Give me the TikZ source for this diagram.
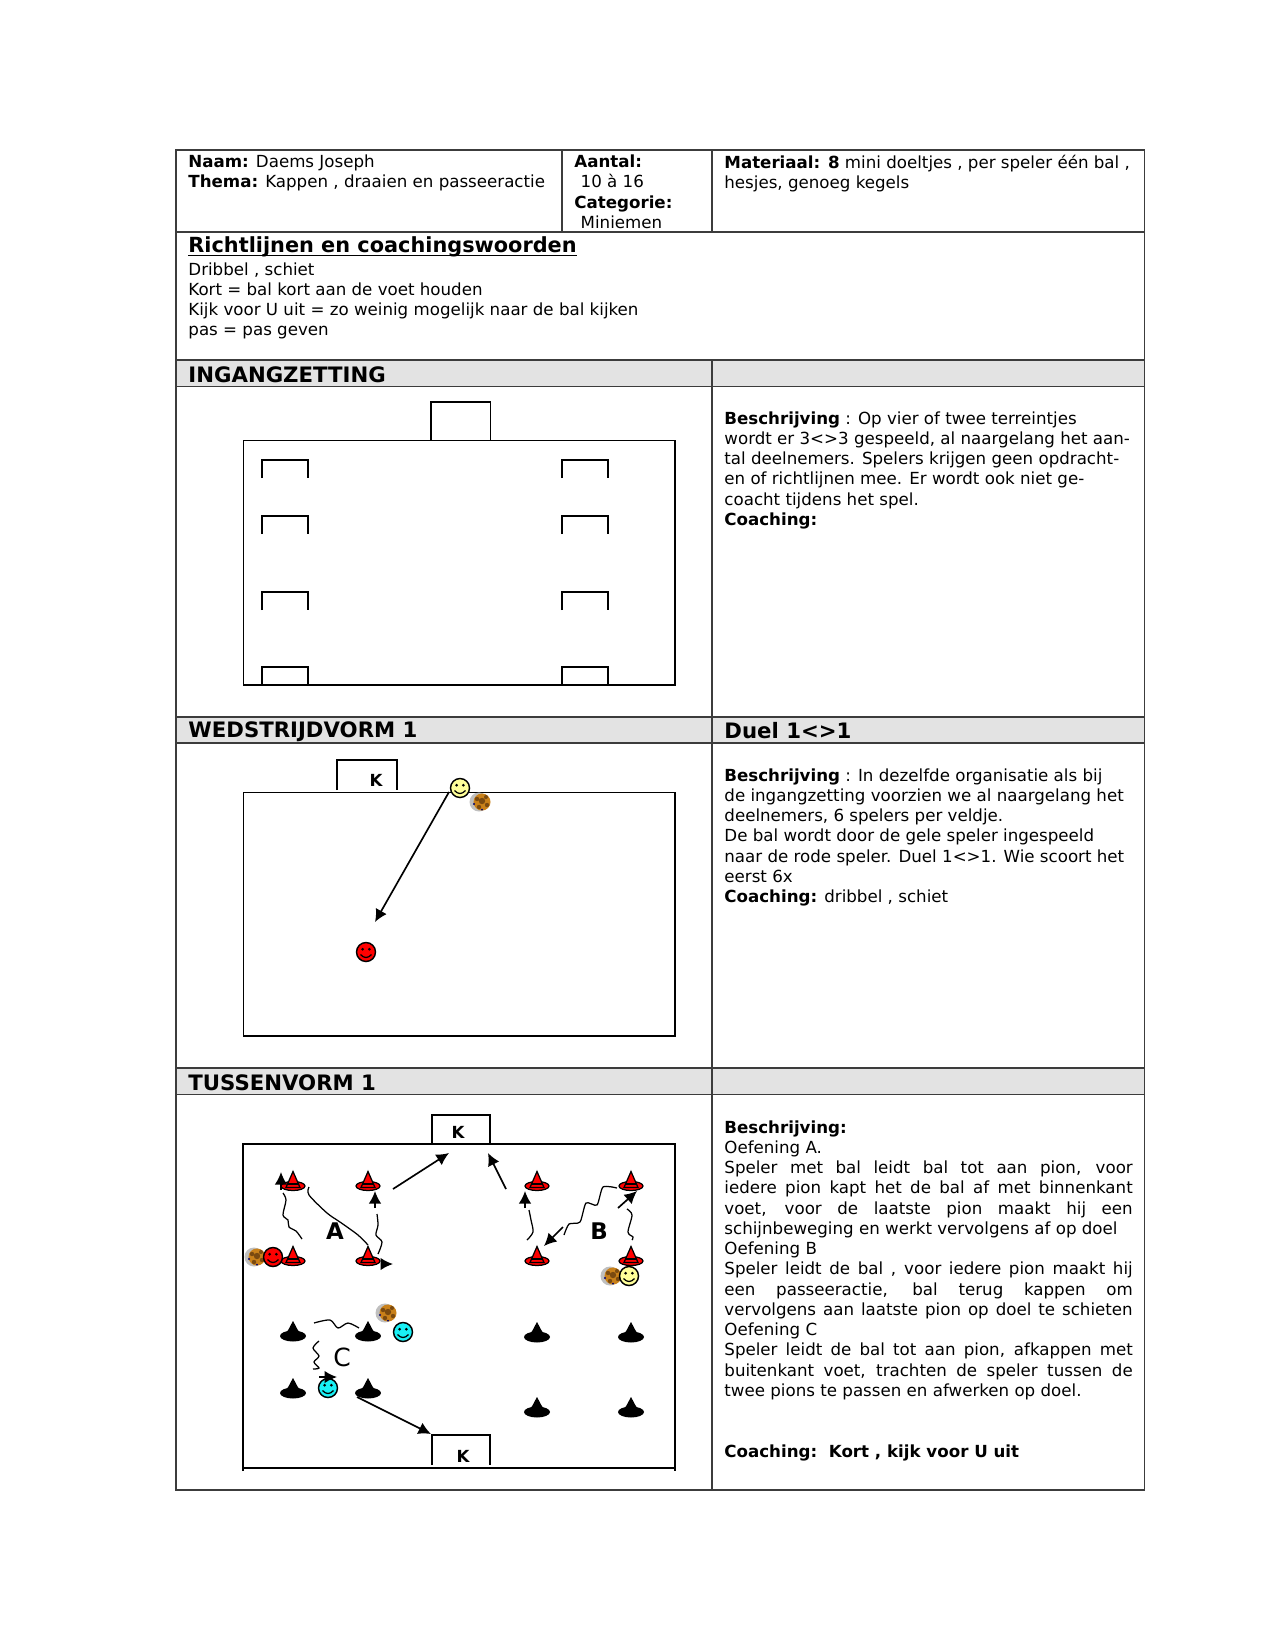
\documentclass[tikz,border=0pt]{standalone}
\usepackage{fontspec}
\setmainfont{DejaVu Sans}
\usetikzlibrary{arrows.meta}
\definecolor{kop}{HTML}{E3E3E3}
\definecolor{lijn}{HTML}{3C3C3C}
\definecolor{geel}{HTML}{FFFF99}
\definecolor{blauw}{HTML}{19F0F5}
\definecolor{bal}{HTML}{C9811A}
\definecolor{balvlek}{HTML}{7A4A10}
\tikzset{
  veld/.style={line width=0.6pt,black},
  rooster/.style={line width=0.5pt,lijn},
  tekst/.style={anchor=north west,inner sep=0pt,align=left,font=\fontsize{8}{9.72}\selectfont},
  blok/.style={anchor=north west,inner sep=0pt,text width=196pt,align=justify,font=\fontsize{8}{9.72}\selectfont},
  titel/.style={anchor=west,inner sep=0pt,font=\fontsize{10.2}{12}\selectfont\bfseries},
  letter/.style={inner sep=0pt,font=\fontsize{8}{10}\selectfont\bfseries},
  pijl/.style={line width=0.8pt,-{Latex[length=6pt,width=6pt]}},
  kron/.style={line width=0.6pt},
  pics/rodepion/.style={code={
    \draw[line width=0.6pt,fill=red] (0,0) ellipse (12 and 4.5);
    \draw[line width=0.6pt,fill=red] (-7,1.5) -- (0,-14.5) -- (7,1.5) -- cycle;
    \draw[line width=0.6pt] (-5.5,-2) -- (5.5,-2);
  }},
  pics/zwartepion/.style={code={
    \fill (0,1) ellipse (13 and 5.5);
    \fill (-9,0) .. controls (-5,-3) and (-3,-9) .. (0,-14) .. controls (3,-9) and (5,-3) .. (9,0) -- cycle;
  }},
  pics/smiley/.style={code={
    \draw[line width=0.7pt,fill=#1] (0,0) circle (9.5);
    \fill (-3.4,-2.8) circle (1.5) (3.4,-2.8) circle (1.5);
    \draw[line width=0.6pt] (-5.5,2.5) .. controls (-2,6.5) and (2,6.5) .. (5.5,2.5);
  }},
  pics/voetbal/.style={code={
    \fill[black!25] (-3,0) circle (9.5);
    \fill[bal] (0,0) circle (8.5);
    \fill[balvlek] (0,-1) circle (3.2) (-5,-3) circle (2.2) (4,-5) circle (2) (5,3) circle (2.2) (-3,5) circle (2.2);
    \fill[blue!45!black] (-8,2) circle (1.2) (0,7.5) circle (1);
  }}
}
\begin{document}
\begin{tikzpicture}[x=0.48pt,y=-0.48pt]
\useasboundingbox (0,0) rectangle (1275,1651);

% grijze koppen
\fill[kop] (176,360) rectangle (1144.5,386.5);
\fill[kop] (176,717) rectangle (1144.5,743);
\fill[kop] (176,1068) rectangle (1144.5,1094.5);

% tabel
\draw[rooster] (176,150) rectangle (1144.5,1490);
\draw[rooster] (176,232) -- (1144.5,232);
\draw[rooster] (176,360) -- (1144.5,360);
\draw[rooster] (176,386.5) -- (1144.5,386.5);
\draw[rooster] (176,717) -- (1144.5,717);
\draw[rooster] (176,743) -- (1144.5,743);
\draw[rooster] (176,1068) -- (1144.5,1068);
\draw[rooster] (176,1094.5) -- (1144.5,1094.5);
\draw[rooster] (562,150) -- (562,232);
\draw[rooster] (712,150) -- (712,232);
\draw[rooster] (712,360) -- (712,1490);

% kop van het blad
\node[tekst] (naam) at (188,154.5) {\textbf{Naam:} Daems Joseph\\\textbf{Thema:} Kappen , draaien en passeeractie};
\node[tekst] (aantal) at (574,154.5) {\textbf{Aantal:}\\\hspace*{3pt}10 à 16\\\textbf{Categorie:}\\\hspace*{3pt}Miniemen};
\node[tekst] (materiaal) at (724,154.5) {\textbf{Materiaal: 8} mini doeltjes , per speler één bal ,\\hesjes, genoeg kegels};
\node[anchor=west,inner sep=0pt,font=\fontsize{10}{12}\selectfont\bfseries] (richtlijnen) at (188,247) {Richtlijnen en coachingswoorden};
\draw[line width=0.8pt] ([yshift=-1.3pt]richtlijnen.base west) -- ([yshift=-1.3pt]richtlijnen.base east);
\node[tekst] (woorden) at (188,262) {Dribbel , schiet\\Kort = bal kort aan de voet houden\\Kijk voor U uit = zo weinig mogelijk naar de bal kijken\\pas = pas geven};

\node[titel] (ingang) at (188,375) {INGANGZETTING};
\node[titel] (wedstrijd) at (188,732) {WEDSTRIJDVORM 1};
\node[titel] (duel) at (724,731) {Duel 1<>1};
\node[titel] (tussen) at (188,1083) {TUSSENVORM 1};

% beschrijvingen
\node[tekst] (besch1) at (724,411) {\textbf{Beschrijving} : Op vier of twee terreintjes\\wordt er 3<>3 gespeeld, al naargelang het aan-\\tal deelnemers. Spelers krijgen geen opdracht-\\en of richtlijnen mee. Er wordt ook niet ge-\\coacht tijdens het spel.\\\textbf{Coaching:}};
\node[tekst] (besch2) at (724,768) {\textbf{Beschrijving} : In dezelfde organisatie als bij\\de ingangzetting voorzien we al naargelang het\\deelnemers, 6 spelers per veldje.\\De bal wordt door de gele speler ingespeeld\\naar de rode speler. Duel 1<>1. Wie scoort het\\eerst 6x\\\textbf{Coaching:} dribbel , schiet};
\node[blok] (besch3) at (724,1120) {\textbf{Beschrijving:}\\Oefening A.\\Speler met bal leidt bal tot aan pion, voor\linebreak
iedere pion kapt het de bal af met binnenkant\linebreak
voet, voor de laatste pion maakt hij een\linebreak
schijnbeweging en werkt vervolgens af op doel\\Oefening B\\Speler leidt de bal , voor iedere pion maakt hij\linebreak
een passeeractie, bal terug kappen om\linebreak
\makebox[\linewidth][s]{vervolgens aan laatste pion op doel te schieten}\\Oefening C\\Speler leidt de bal tot aan pion, afkappen met\linebreak
buitenkant voet, trachten de speler tussen de\linebreak
twee pions te passen en afwerken op doel.};
\node[tekst] (coach3) at (724,1444) {\textbf{Coaching:\ \ Kort , kijk voor U uit}};

% veld 1
\draw[veld] (243.5,440.5) rectangle (675,685);
\draw[veld] (431,440.5) -- (431,402) -- (490.5,402) -- (490.5,440.5);
\foreach \x in {262,562}
  \foreach \y in {478,534,610,685}
    \draw[veld] (\x,\y) -- (\x,\y-18) -- (\x+46,\y-18) -- (\x+46,\y);

% veld 2
\draw[veld] (243.5,792.5) rectangle (675,1036);
\draw[veld] (337,790) -- (337,760) -- (397,760) -- (397,790);
\node[letter] (k1) at (376,780) {K};
\pic at (482,802) {voetbal};
\pic (geel2) at (460,788) {smiley=geel};
\pic (rood2) at (366,952) {smiley=red};
\coordinate (pasA) at (449,792);
\coordinate (pasB) at (375,922);
\draw[pijl] (pasA) -- (pasB);

% veld 3
\draw[veld] (243,1471) -- (243,1144) -- (675,1144) -- (675,1471);
\draw[veld] (243,1468) -- (675,1468);
\draw[veld] (432,1144) -- (432,1115) -- (490,1115) -- (490,1144);
\draw[veld] (432,1465) -- (432,1435) -- (490,1435) -- (490,1465);
\node[letter] (k2) at (458,1132) {K};
\node[letter] (k3) at (463,1456) {K};

\foreach \x/\y in {293/1186,368/1186,293/1261,368/1261,537/1186,631/1186,537/1261,631/1261}
  \pic at (\x,\y) {rodepion};
\foreach \x/\y in {293/1335,368/1335,293/1392,368/1392,537/1336,631/1336,537/1411,631/1411}
  \pic at (\x,\y) {zwartepion};

\pic at (257,1257) {voetbal};
\pic at (388,1313) {voetbal};
\pic at (613,1276) {voetbal};
\pic (rood3) at (273,1257) {smiley=red};
\pic (blauw1) at (403,1332) {smiley=blauw};
\pic (blauw2) at (328,1388) {smiley=blauw};
\pic (geel3) at (629,1276) {smiley=geel};

\node[inner sep=0pt,font=\fontsize{11}{13}\selectfont\bfseries] (A) at (335,1231) {A};
\node[inner sep=0pt,font=\fontsize{11}{13}\selectfont\bfseries] (B) at (599,1231) {B};
\node[inner sep=0pt,font=\fontsize{12}{14}\selectfont] (C) at (342,1357) {C};

% pijlen
\foreach \naam/\xa/\ya/\xb/\yb in {a/393/1189/449/1153,b/506/1189/488/1153,c/281/1190/281/1172,d/375/1208/375/1191,e/382/1264/393/1264,f/319/1377/337/1377,g/357/1397/431/1434,h/525/1208/525/1191,i/618/1208/637/1191,j/563/1227/544/1246}{
  \coordinate (\naam s) at (\xa,\ya);
  \coordinate (\naam e) at (\xb,\yb);
  \draw[pijl] (\naam s) -- (\naam e);
}

% dribbels
\draw[kron] plot[smooth] coordinates {(283,1193) (286,1200) (283,1215) (288,1220) (289,1227) (296,1231) (302,1239)};
\draw[kron] plot[smooth] coordinates {(309,1187) (309,1195) (327,1213) (340,1222) (358,1235) (368,1245)};
\draw[kron] plot[smooth] coordinates {(377,1214) (378,1225) (376,1235) (382,1242) (378,1254)};
\draw[kron] plot[smooth] coordinates {(314,1323) (330,1320) (338,1328) (348,1323) (359,1328)};
\draw[kron] plot[smooth] coordinates {(319,1341) (313,1348) (319,1356) (314,1362) (319,1368) (313,1369)};
\draw[kron] plot[smooth] coordinates {(529,1210) (531,1220) (533,1232) (527,1240)};
\draw[kron] plot[smooth,tension=.4] coordinates {(564,1235) (569,1224) (580,1222) (586,1203) (597,1205) (603,1187) (617,1188)};
\draw[kron] plot[smooth] coordinates {(627,1209) (632,1215) (628,1232) (633,1237) (632,1240)};
\end{tikzpicture}
\end{document}
